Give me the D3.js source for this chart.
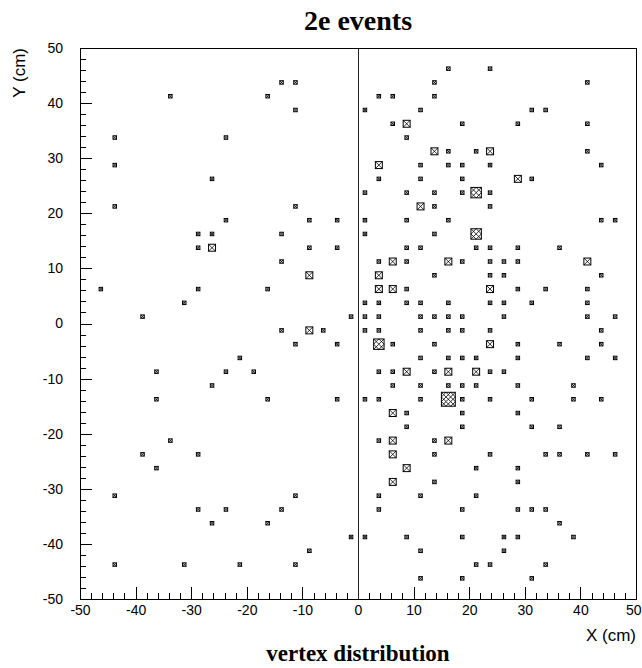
<!DOCTYPE html>
<meta charset="utf-8">
<style>
body { margin: 0; background: #fff; }
.axis text { font: 14px "Liberation Sans", Arial, sans-serif; fill: #000; }
.axis path, .axis line { fill: none; stroke: #000; shape-rendering: crispEdges; }
.frame { fill: none; stroke: #000; stroke-width: 1px; shape-rendering: crispEdges; }
.zero { stroke: #222; stroke-width: 1px; shape-rendering: crispEdges; }
.box { fill: #fff; stroke: #000; stroke-width: 1px; }
.hatch { fill: none; stroke: #000; stroke-width: 0.8px; }
.title { font: bold 28px "Liberation Serif", "Times New Roman", serif; }
.atitle { font: 17px "Liberation Sans", Arial, sans-serif; }
</style>
<body>
<svg width="642" height="668"></svg>
<script src="https://d3js.org/d3.v7.min.js"></script>
<script>
// bin centres (cm), one row of filled bins per y value; counts parallel to rowX
var rowY = [46.25, 43.75, 41.25, 38.75, 36.25, 33.75, 31.25, 28.75, 26.25, 23.75,
            21.25, 18.75, 16.25, 13.75, 11.25, 8.75, 6.25, 3.75, 1.25, -1.25,
            -3.75, -6.25, -8.75, -11.25, -13.75, -16.25, -18.75, -21.25, -23.75, -26.25,
            -28.75, -31.25, -33.75, -36.25, -38.75, -41.25, -43.75, -46.25];
var rowX = [
  [16.25, 23.75],
  [-13.75, -11.25, 13.75, 41.25],
  [-33.75, -16.25, 3.75, 6.25, 13.75],
  [-11.25, 1.25, 11.25, 31.25, 33.75],
  [6.25, 8.75, 18.75, 28.75, 41.25],
  [-43.75, -23.75, 8.75],
  [13.75, 16.25, 21.25, 23.75, 41.25],
  [-43.75, 3.75, 11.25, 16.25, 18.75, 23.75, 43.75],
  [-26.25, 3.75, 11.25, 18.75, 28.75, 31.25],
  [1.25, 8.75, 13.75, 18.75, 21.25, 23.75],
  [-43.75, -11.25, 11.25, 13.75, 23.75],
  [-23.75, -8.75, -3.75, 1.25, 8.75, 16.25, 43.75, 46.25],
  [-28.75, -26.25, -13.75, 1.25, 13.75, 21.25],
  [-28.75, -26.25, -8.75, -3.75, 8.75, 11.25, 21.25, 23.75, 28.75, 36.25],
  [-13.75, 3.75, 6.25, 8.75, 16.25, 18.75, 23.75, 26.25, 28.75, 41.25],
  [-8.75, 3.75, 13.75, 23.75, 26.25, 43.75],
  [-46.25, -28.75, -16.25, 3.75, 6.25, 8.75, 23.75, 28.75, 33.75, 41.25],
  [-31.25, 1.25, 3.75, 8.75, 11.25, 16.25, 23.75, 26.25, 31.25, 41.25],
  [-38.75, -1.25, 1.25, 3.75, 11.25, 13.75, 16.25, 18.75, 26.25, 41.25, 46.25],
  [-13.75, -8.75, -6.25, 1.25, 3.75, 11.25, 16.25, 18.75, 23.75, 43.75],
  [-11.25, -3.75, 3.75, 6.25, 13.75, 23.75, 28.75, 36.25, 43.75],
  [-21.25, 11.25, 16.25, 18.75, 21.25, 28.75, 41.25, 46.25],
  [-36.25, -23.75, -18.75, 3.75, 6.25, 8.75, 13.75, 16.25, 21.25, 23.75, 26.25],
  [-26.25, 6.25, 11.25, 16.25, 18.75, 21.25, 28.75, 38.75],
  [-36.25, -16.25, -3.75, 1.25, 3.75, 11.25, 16.25, 18.75, 23.75, 31.25, 38.75, 43.75],
  [6.25, 8.75, 18.75, 28.75],
  [8.75, 18.75, 31.25, 36.25],
  [-33.75, 3.75, 6.25, 13.75, 16.25],
  [-38.75, -28.75, 6.25, 13.75, 23.75, 33.75, 36.25, 41.25, 46.25],
  [-36.25, 8.75, 21.25, 28.75],
  [6.25, 13.75, 28.75],
  [-43.75, -11.25, 3.75, 11.25, 21.25],
  [-28.75, -23.75, -13.75, 3.75, 18.75, 28.75, 31.25, 33.75],
  [-26.25, -16.25, 36.25],
  [-1.25, 1.25, 8.75, 18.75, 26.25, 28.75, 38.75],
  [-8.75, 11.25, 26.25],
  [-43.75, -31.25, -21.25, -11.25, 21.25, 23.75, 33.75],
  [11.25, 18.75, 31.25]
];
var rowN = [
  [1, 1],
  [1, 1, 1, 1],
  [1, 1, 1, 1, 1],
  [1, 1, 1, 1, 1],
  [1, 2, 1, 1, 1],
  [1, 1, 1],
  [2, 1, 1, 2, 1],
  [1, 2, 1, 1, 1, 1, 1],
  [1, 1, 1, 1, 2, 1],
  [1, 1, 1, 1, 3, 1],
  [1, 1, 2, 1, 1],
  [1, 1, 1, 1, 1, 1, 1, 1],
  [1, 1, 1, 1, 1, 3],
  [1, 2, 1, 1, 1, 1, 1, 1, 1, 1],
  [1, 1, 2, 1, 2, 1, 1, 1, 1, 2],
  [2, 2, 1, 1, 1, 1],
  [1, 1, 1, 2, 2, 1, 2, 1, 1, 1],
  [1, 1, 1, 1, 1, 1, 1, 1, 1, 1],
  [1, 1, 1, 1, 1, 1, 1, 1, 1, 1, 1],
  [1, 2, 1, 1, 1, 1, 1, 1, 1, 1],
  [1, 1, 3, 1, 1, 2, 1, 1, 1],
  [1, 1, 1, 1, 1, 1, 1, 1],
  [1, 1, 1, 1, 1, 2, 1, 2, 2, 1, 1],
  [1, 1, 1, 1, 1, 1, 1, 1],
  [1, 1, 1, 1, 1, 1, 4, 1, 1, 1, 1, 1],
  [2, 1, 1, 1],
  [1, 1, 1, 1],
  [1, 1, 2, 1, 2],
  [1, 1, 2, 1, 1, 1, 1, 1, 1],
  [1, 2, 1, 1],
  [2, 1, 1],
  [1, 1, 1, 1, 1],
  [1, 1, 1, 1, 1, 1, 1, 1],
  [1, 1, 1],
  [1, 1, 1, 1, 1, 1, 1],
  [1, 1, 1],
  [1, 1, 1, 1, 1, 1, 1],
  [1, 1, 1]
];
var xMajor = [-50, -40, -30, -20, -10, 0, 10, 20, 30, 40, 50];
var yMajor = [-50, -40, -30, -20, -10, 0, 10, 20, 30, 40, 50];
var binWidth = 2.5;

var svg = d3.select("svg"),
    margin = {top: 48, right: 6, bottom: 69, left: 80},
    width = +svg.attr("width") - margin.left - margin.right,
    height = +svg.attr("height") - margin.top - margin.bottom;

var x = d3.scaleLinear().domain([-50, 50]).range([0, width]);
var y = d3.scaleLinear().domain([-50, 50]).range([height, 0]);

var bins = [];
rowY.forEach(function(yv, r) {
  rowX[r].forEach(function(xv, k) {
    bins.push({x: xv, y: yv, n: rowN[r][k]});
  });
});
var zmax = d3.max(bins, function(d) { return d.n; });
var plain = function(d) { return String(d); };

var g = svg.append("g")
    .attr("transform", "translate(" + margin.left + "," + margin.top + ")");

// minor ticks
g.append("g")
    .attr("class", "axis")
    .attr("transform", "translate(0," + height + ")")
    .call(d3.axisBottom(x).tickValues(d3.range(-50, 50.1, 2)).tickSize(-6).tickSizeOuter(0).tickFormat(""));
g.append("g")
    .attr("class", "axis")
    .call(d3.axisLeft(y).tickValues(d3.range(-50, 50.1, 2)).tickSize(-6).tickSizeOuter(0).tickFormat(""));

// major ticks + labels
var xAxis = g.append("g")
    .attr("class", "axis")
    .attr("transform", "translate(0," + height + ")")
    .call(d3.axisBottom(x).tickValues(xMajor).tickSize(-12).tickSizeOuter(0).tickPadding(6).tickFormat(plain));
// keep the last label inside the page
xAxis.selectAll(".tick text")
    .filter(function(d) { return d === 50; })
    .attr("text-anchor", "end")
    .attr("x", margin.right - 1);

g.append("g")
    .attr("class", "axis")
    .call(d3.axisLeft(y).tickValues(yMajor).tickSize(-12).tickSizeOuter(0).tickPadding(17).tickFormat(plain));

g.append("rect")
    .attr("class", "frame")
    .attr("x", 0).attr("y", 0)
    .attr("width", width).attr("height", height);

g.append("line")
    .attr("class", "zero")
    .attr("x1", x(0)).attr("x2", x(0))
    .attr("y1", 0).attr("y2", height);

// boxes
var bw = x(binWidth) - x(0);
var box = g.selectAll(".bin")
    .data(bins)
  .enter().append("g")
    .attr("class", "bin");

box.append("rect")
    .attr("class", "box")
    .attr("x", function(d) { return x(d.x) - bw * d.n / zmax / 2; })
    .attr("y", function(d) { return y(d.y) - bw * d.n / zmax / 2; })
    .attr("width", function(d) { return bw * d.n / zmax; })
    .attr("height", function(d) { return bw * d.n / zmax; });

box.append("path")
    .attr("class", "hatch")
    .attr("d", function(d) {
      var s = bw * d.n / zmax,
          x0 = x(d.x) - s / 2,
          y0 = y(d.y) - s / 2,
          k = Math.max(1, d.n - 1),
          c = s / k,
          p = "";
      for (var a = 0; a < k; a++) {
        for (var b = 0; b < k; b++) {
          p += "M" + (x0 + a * c) + "," + (y0 + b * c) + "l" + c + "," + c;
          p += "M" + (x0 + (a + 1) * c) + "," + (y0 + b * c) + "l" + (-c) + "," + c;
        }
      }
      return p;
    });

// titles
svg.append("text")
    .attr("class", "title")
    .attr("x", margin.left + width / 2)
    .attr("y", 30)
    .attr("text-anchor", "middle")
    .text("2e events");

svg.append("text")
    .attr("class", "title")
    .style("font-size", "23px")
    .attr("x", margin.left + width / 2)
    .attr("y", 661)
    .attr("text-anchor", "middle")
    .text("vertex distribution");

svg.append("text")
    .attr("class", "atitle")
    .attr("transform", "translate(" + (margin.left + width) + ",641)")
    .attr("text-anchor", "end")
    .text("X (cm)");

svg.append("text")
    .attr("class", "atitle")
    .attr("transform", "translate(25," + margin.top + ") rotate(-90)")
    .attr("text-anchor", "end")
    .text("Y (cm)");
</script>
</body>
